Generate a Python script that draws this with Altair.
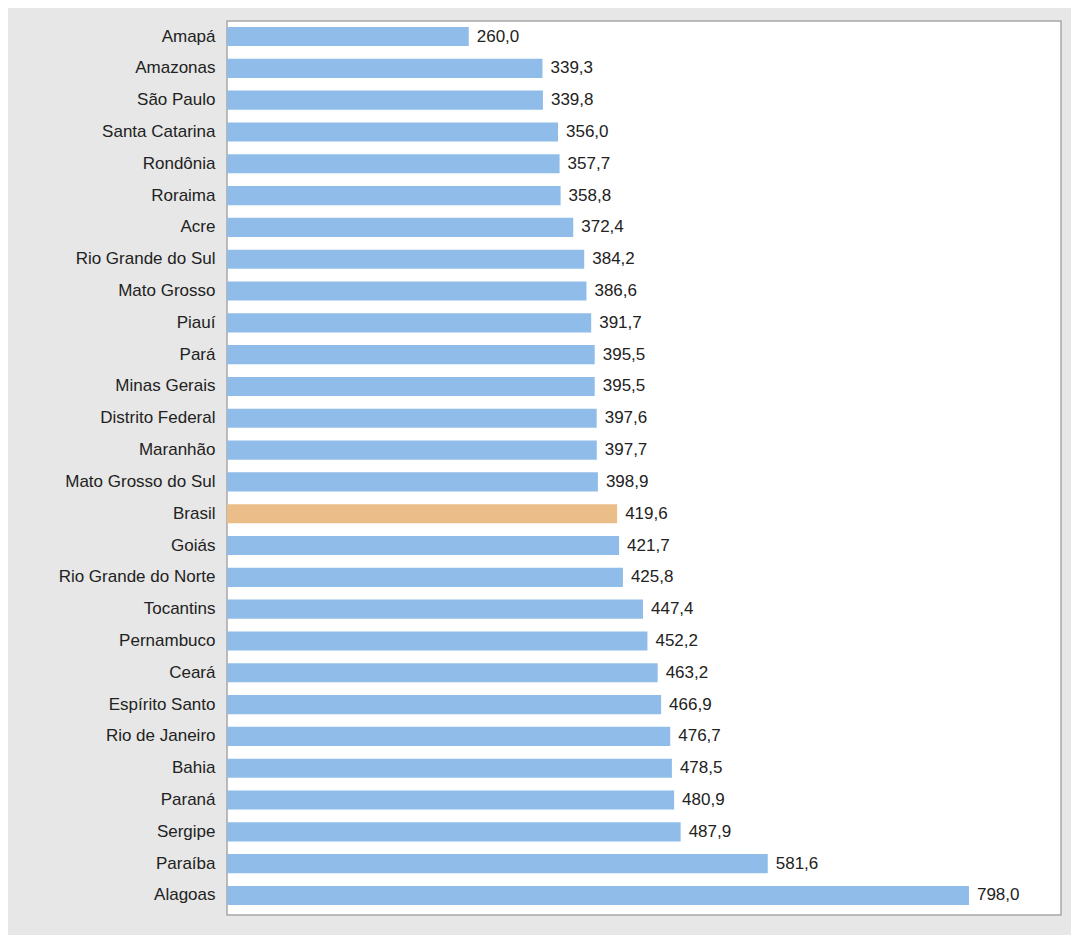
import altair as alt
import pandas as pd

estados = ["Amapá", "Amazonas", "São Paulo", "Santa Catarina", "Rondônia", "Roraima", "Acre",
           "Rio Grande do Sul", "Mato Grosso", "Piauí", "Pará", "Minas Gerais", "Distrito Federal",
           "Maranhão", "Mato Grosso do Sul", "Brasil", "Goiás", "Rio Grande do Norte", "Tocantins",
           "Pernambuco", "Ceará", "Espírito Santo", "Rio de Janeiro", "Bahia", "Paraná", "Sergipe",
           "Paraíba", "Alagoas"]
valores = [260.0, 339.3, 339.8, 356.0, 357.7, 358.8, 372.4, 384.2, 386.6, 391.7, 395.5, 395.5,
           397.6, 397.7, 398.9, 419.6, 421.7, 425.8, 447.4, 452.2, 463.2, 466.9, 476.7, 478.5,
           480.9, 487.9, 581.6, 798.0]
destaque = ["Brasil"]

df = pd.DataFrame({"estado": estados, "valor": valores})
df["grupo"] = ["Brasil" if e in destaque else "UF" for e in estados]

FONT = "Liberation Sans"
FS = 17

base = alt.Chart(df).encode(
    y=alt.Y("estado:N", sort=estados,
            scale=alt.Scale(range=[6, 884], paddingInner=0.4, paddingOuter=0),
            axis=alt.Axis(title=None, ticks=False, domain=False, labelPadding=12,
                          labelFontSize=FS, labelColor="#222222", labelFont=FONT)),
)

bars = base.mark_bar().encode(
    x=alt.X("valor:Q", scale=alt.Scale(domain=[0, 897], nice=False),
            axis=None),
    color=alt.Color("grupo:N", scale=alt.Scale(domain=["UF", "Brasil"],
                                               range=["#8fbce8", "#ebbd88"]),
                    legend=None),
)

text = base.mark_text(align="left", dx=8, fontSize=FS, font=FONT, color="#222222").encode(
    x=alt.X("valor:Q"),
    text="rotulo:N",
).transform_calculate(rotulo="replace(format(datum.valor, '.1f'), '.', ',')")

chart = (bars + text).properties(
    width=834, height=894,
    autosize=alt.AutoSizeParams(type="none"),
    padding={"left": 219, "top": 13, "right": 10, "bottom": 20},
    background="#e6e7e6",
).configure_view(fill="white", stroke="#a8a8a8", strokeWidth=1.5)

chart.save("out.html", embed_options={"renderer": "svg", "actions": False})
